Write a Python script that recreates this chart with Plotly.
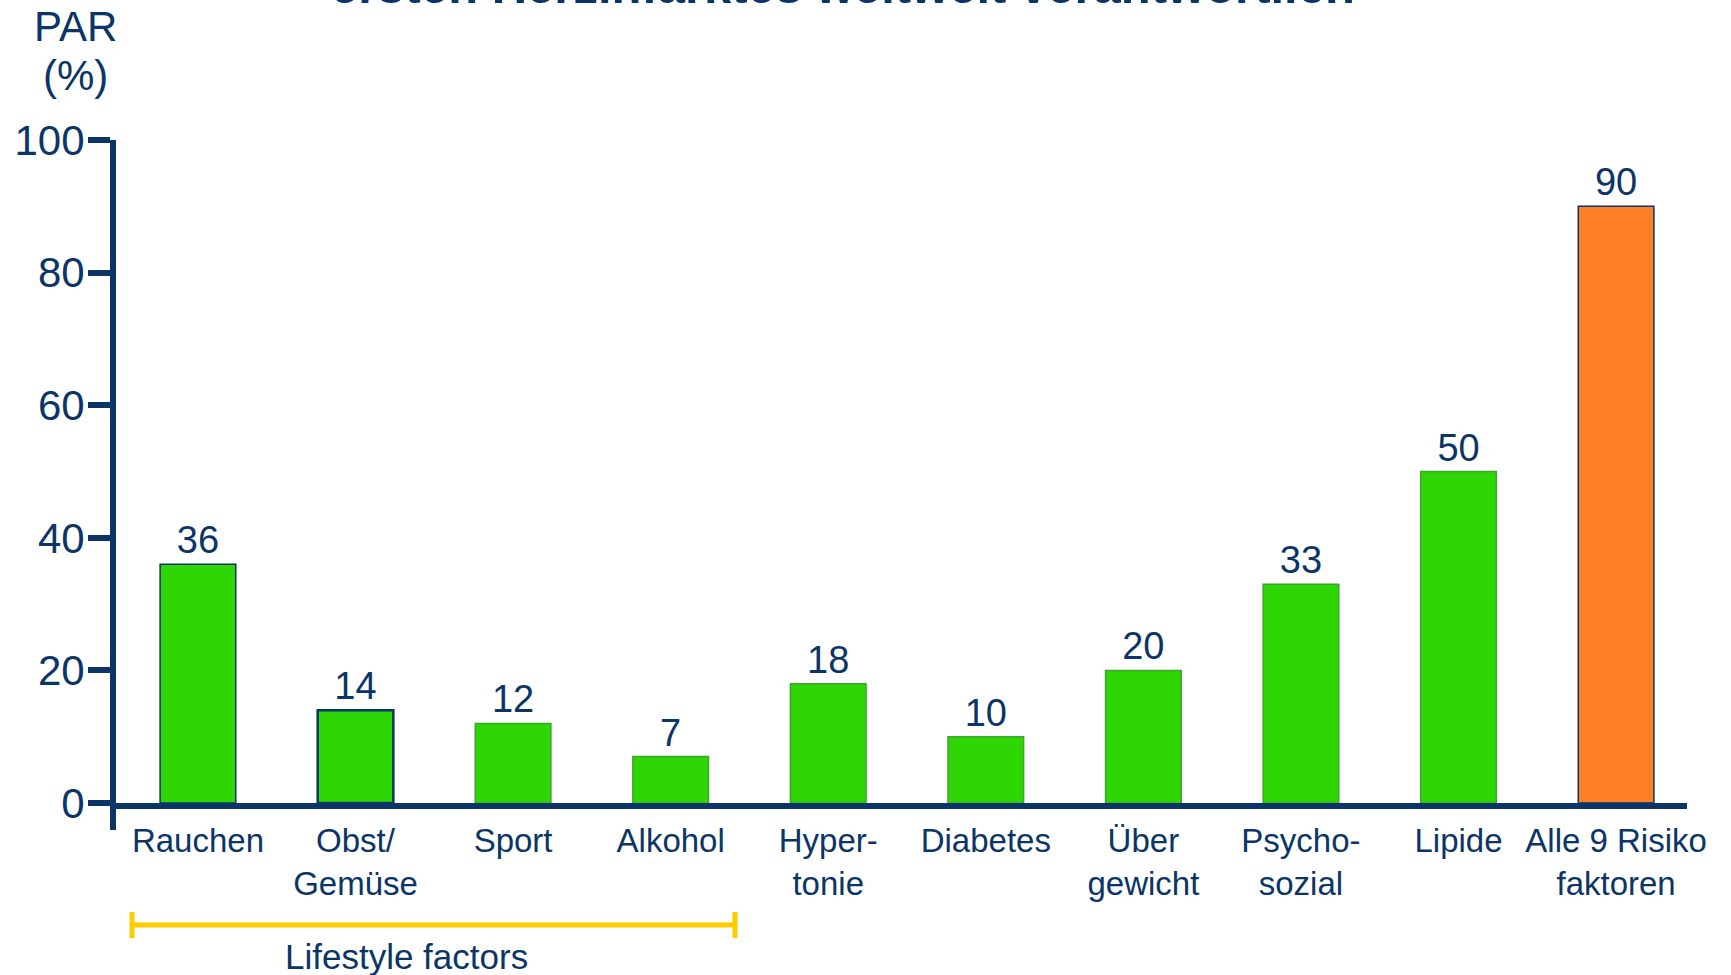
import plotly.graph_objects as go

# Population attributable risk (PAR) of first myocardial infarction by risk factor
categories = ["Rauchen", "Obst/<br>Gemüse", "Sport", "Alkohol", "Hyper-<br>tonie",
              "Diabetes", "Über<br>gewicht", "Psycho-<br>sozial", "Lipide",
              "Alle 9 Risiko<br>faktoren"]
par_values = [36, 14, 12, 7, 18, 10, 20, 33, 50, 90]
y_ticks = [0, 20, 40, 60, 80, 100]

NAVY = "#0B3566"
GREEN = "#2ED604"
ORANGE = "#FF7F27"
EDGE_GREEN = "#3DA52E"
YELLOW = "#FFCC00"
FONT = "Liberation Sans, Arial, sans-serif"

bar_colors = [ORANGE if c.startswith("Alle") else GREEN for c in categories]
edge_colors = [NAVY, NAVY, EDGE_GREEN, EDGE_GREEN, EDGE_GREEN, EDGE_GREEN,
               EDGE_GREEN, EDGE_GREEN, EDGE_GREEN, NAVY]
edge_widths = [1.5, 2.5, 1.5, 1.5, 1.5, 1.5, 1.5, 1.5, 1.5, 1.5]

fig = go.Figure(go.Bar(
    x=categories,
    y=par_values,
    width=0.48,
    marker=dict(color=bar_colors, line=dict(color=edge_colors, width=edge_widths)),
    text=[str(v) for v in par_values],
    textposition="outside",
    textfont=dict(family=FONT, size=38, color=NAVY),
    cliponaxis=False,
))

fig.update_layout(
    width=1731, height=975,
    margin=dict(l=116, r=44, t=140, b=172, autoexpand=False),
    paper_bgcolor="white", plot_bgcolor="white",
    showlegend=False,
    bargap=0.5,
    font=dict(family=FONT, color=NAVY),
)

fig.update_xaxes(
    type="category",
    range=[-0.52, 9.45],
    automargin=False,
    showline=True, linecolor=NAVY, linewidth=6,
    ticks="", showgrid=False, zeroline=False,
    tickfont=dict(family=FONT, size=33, color=NAVY),
    ticklabelstandoff=3,
)

fig.update_yaxes(
    range=[0, 100],
    tickvals=y_ticks,
    automargin=False,
    showline=True, linecolor=NAVY, linewidth=6,
    ticks="outside", ticklen=22, tickwidth=6, tickcolor=NAVY,
    showgrid=False, zeroline=False,
    tickfont=dict(family=FONT, size=42, color=NAVY),
    ticklabelstandoff=-5,
)

# y-axis line continues a little below the baseline
fig.add_shape(type="line", xref="paper", yref="paper",
              x0=-0.0019, x1=-0.0019, y0=0, y1=-0.0407,
              line=dict(color=NAVY, width=6))

# Axis title, two stacked lines
fig.add_annotation(text="PAR", xref="paper", yref="paper",
                   x=-0.0255, y=1.2097, xanchor="center", yanchor="top",
                   showarrow=False, font=dict(family=FONT, size=42, color=NAVY))
fig.add_annotation(text="(%)", xref="paper", yref="paper",
                   x=-0.0255, y=1.1358, xanchor="center", yanchor="top",
                   showarrow=False, font=dict(family=FONT, size=42, color=NAVY))

# Second line of the slide heading, running off the top edge
fig.add_annotation(text="<b>ersten Herzinfarktes weltweit verantwortlich</b>",
                   xref="paper", yref="paper", x=0.4628, y=1.1885,
                   xanchor="center", yanchor="bottom", showarrow=False,
                   font=dict(family=FONT, size=49, color=NAVY))

# Bracket marking the lifestyle factors
bx0, bx1, by = 0.0102, 0.394, -0.184
fig.add_shape(type="line", xref="paper", yref="paper", x0=bx0, x1=bx1, y0=by, y1=by,
              line=dict(color=YELLOW, width=5))
for bx in (bx0, bx1):
    fig.add_shape(type="line", xref="paper", yref="paper", x0=bx, x1=bx,
                  y0=by + 0.0196, y1=by - 0.0196, line=dict(color=YELLOW, width=5))
fig.add_annotation(text="Lifestyle factors", xref="paper", yref="paper",
                   x=0.1852, y=-0.2308, xanchor="center", yanchor="middle",
                   showarrow=False, font=dict(family=FONT, size=35, color=NAVY))

fig.write_html("out.html")
